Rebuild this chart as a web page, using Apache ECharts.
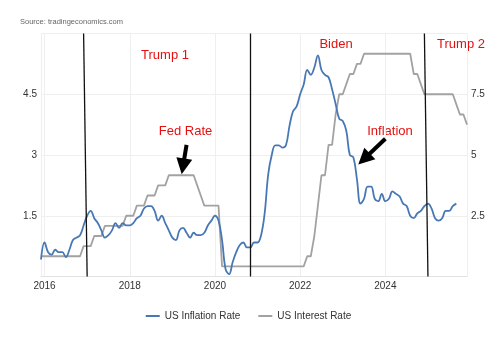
<!DOCTYPE html>
<html>
<head>
<meta charset="utf-8">
<script src="https://cdn.jsdelivr.net/npm/echarts@6/dist/echarts.min.js"></script>
<style>
html,body{margin:0;padding:0;background:#fff;}
#chart{width:497px;height:339px;}
</style>
</head>
<body>
<div id="chart"></div>
<script>
// US CPI inflation, YoY % (monthly, Dec 2015 .. Sep 2025)
const cpi2015 = [0.7];
const cpi2016 = [1.4, 1.0, 0.9, 1.1, 1.0, 1.0, 0.8, 1.1, 1.5, 1.6, 1.7, 2.1];
const cpi2017 = [2.5, 2.7, 2.4, 2.2, 1.9, 1.6, 1.7, 1.9, 2.2, 2.0, 2.2, 2.1];
const cpi2018 = [2.1, 2.2, 2.4, 2.5, 2.8, 2.9, 2.9, 2.7, 2.3, 2.5, 2.2, 1.9];
const cpi2019 = [1.6, 1.5, 1.9, 2.0, 1.8, 1.6, 1.8, 1.7, 1.7, 1.8, 2.1, 2.3];
const cpi2020 = [2.5, 2.3, 1.5, 0.3, 0.1, 0.6, 1.0, 1.3, 1.4, 1.2, 1.2, 1.4];
const cpi2021 = [1.4, 1.7, 2.6, 4.2, 5.0, 5.4, 5.4, 5.3, 5.4, 6.2, 6.8, 7.0];
const cpi2022 = [7.5, 7.9, 8.5, 8.3, 8.6, 9.1, 8.5, 8.3, 8.2, 7.7, 7.1, 6.5];
const cpi2023 = [6.4, 6.0, 5.0, 4.9, 4.0, 3.0, 3.2, 3.7, 3.7, 3.2, 3.1, 3.4];
const cpi2024 = [3.1, 3.2, 3.5, 3.4, 3.3, 3.0, 2.9, 2.5, 2.4, 2.6, 2.7, 2.9];
const cpi2025 = [3.0, 2.8, 2.4, 2.3, 2.4, 2.7, 2.7, 2.9, 3.0, null, null, null];

// Fed funds target (upper bound), % (monthly, Dec 2015 .. Dec 2025)
const rate2015 = [0.5];
const rate2016 = [0.5, 0.5, 0.5, 0.5, 0.5, 0.5, 0.5, 0.5, 0.5, 0.5, 0.5, 0.75];
const rate2017 = [0.75, 0.75, 1.0, 1.0, 1.0, 1.25, 1.25, 1.25, 1.25, 1.25, 1.25, 1.5];
const rate2018 = [1.5, 1.5, 1.75, 1.75, 1.75, 2.0, 2.0, 2.0, 2.25, 2.25, 2.25, 2.5];
const rate2019 = [2.5, 2.5, 2.5, 2.5, 2.5, 2.5, 2.5, 2.25, 2.0, 1.75, 1.75, 1.75];
const rate2020 = [1.75, 1.75, 0.25, 0.25, 0.25, 0.25, 0.25, 0.25, 0.25, 0.25, 0.25, 0.25];
const rate2021 = [0.25, 0.25, 0.25, 0.25, 0.25, 0.25, 0.25, 0.25, 0.25, 0.25, 0.25, 0.25];
const rate2022 = [0.25, 0.25, 0.5, 0.5, 1.0, 1.75, 2.5, 2.5, 3.25, 3.25, 4.0, 4.5];
const rate2023 = [4.5, 4.75, 5.0, 5.0, 5.25, 5.25, 5.5, 5.5, 5.5, 5.5, 5.5, 5.5];
const rate2024 = [5.5, 5.5, 5.5, 5.5, 5.5, 5.5, 5.5, 5.5, 5.0, 5.0, 4.75, 4.5];
const rate2025 = [4.5, 4.5, 4.5, 4.5, 4.5, 4.5, 4.5, 4.5, 4.25, 4.0, 4.0, 3.75];

const years = [2015, 2016, 2017, 2018, 2019, 2020, 2021, 2022, 2023, 2024, 2025];
const tickYears = ['2016', '2018', '2020', '2022', '2024'];

const cpiByYear = [cpi2015, cpi2016, cpi2017, cpi2018, cpi2019, cpi2020, cpi2021, cpi2022, cpi2023, cpi2024, cpi2025];
const rateByYear = [rate2015, rate2016, rate2017, rate2018, rate2019, rate2020, rate2021, rate2022, rate2023, rate2024, rate2025];

const months = [];
years.forEach(function (y, i) {
  const n = rateByYear[i].length;
  const firstMonth = 13 - n;
  for (let k = 0; k < n; k++) {
    const m = firstMonth + k;
    months.push(y + '-' + (m < 10 ? '0' + m : '' + m));
  }
});
const inflation = [].concat.apply([], cpiByYear);
const interest = [].concat.apply([], rateByYear);

const FONT = 'Liberation Sans, Arial, sans-serif';
const RED = '#e60f0f';
const BLUE = '#4878b4';
const GRAY = '#a2a2a2';

function isTick(value) {
  return value.slice(5) === '01' && tickYears.indexOf(value.slice(0, 4)) >= 0;
}

const chart = echarts.init(document.getElementById('chart'), null, {renderer: 'canvas'});
chart.setOption({
  animation: false,
  backgroundColor: '#ffffff',
  textStyle: {fontFamily: FONT},
  grid: {left: 41, right: 30, top: 33.5, bottom: 62.5},
  legend: {
    top: 306,
    left: 'center',
    icon: 'rect',
    itemWidth: 14,
    itemHeight: 2,
    itemGap: 18,
    data: ['US Inflation Rate', 'US Interest Rate'],
    textStyle: {fontSize: 10, color: '#333', fontFamily: FONT}
  },
  xAxis: {
    type: 'category',
    data: months,
    boundaryGap: false,
    axisTick: {show: false},
    axisLine: {lineStyle: {color: '#e2e2e2'}},
    axisLabel: {
      interval: function (idx, value) { return isTick(value); },
      formatter: function (value) { return value.slice(0, 4); },
      fontSize: 10, color: '#333', margin: 5, fontFamily: FONT
    },
    splitLine: {
      show: true,
      interval: function (idx, value) { return idx === 0 || idx === months.length - 1 || isTick(value); },
      lineStyle: {color: '#efefef', width: 1}
    }
  },
  yAxis: [
    {
      type: 'value', min: 0, max: 6, interval: 1.5, position: 'left',
      axisLine: {show: false}, axisTick: {show: false},
      axisLabel: {
        fontSize: 10, color: '#333', margin: 4, fontFamily: FONT,
        formatter: function (v) { return (v === 0 || v === 6) ? '' : String(v); }
      },
      splitLine: {lineStyle: {color: '#efefef'}}
    },
    {
      type: 'value', min: 0, max: 10, interval: 2.5, position: 'right',
      axisLine: {show: false}, axisTick: {show: false},
      axisLabel: {
        fontSize: 10, color: '#333', margin: 4, fontFamily: FONT,
        formatter: function (v) { return (v === 0 || v === 10) ? '' : String(v); }
      },
      splitLine: {show: false}
    }
  ],
  series: [
    {
      name: 'US Interest Rate',
      type: 'line',
      yAxisIndex: 0,
      data: interest,
      symbol: 'none',
      smooth: false,
      color: GRAY,
      lineStyle: {width: 1.8, color: GRAY},
      z: 2,
      markLine: {
        silent: true,
        symbol: ['none', 'none'],
        label: {show: false},
        emphasis: {disabled: true},
        lineStyle: {color: '#111', width: 1.3, type: 'solid'},
        data: [
          [{coord: ['2016-12', 6]}, {coord: ['2017-01', 0]}],
          [{coord: ['2020-11', 6]}, {coord: ['2020-11', 0]}],
          [{coord: ['2024-12', 6]}, {coord: ['2025-01', 0]}],
          [
            {coord: ['2019-05', 3.25], symbol: 'none'},
            {coord: ['2019-04', 2.72], symbol: 'triangle', symbolSize: 16},
            {lineStyle: {color: '#000', width: 4}}
          ],
          [
            {coord: ['2024-01', 3.4], symbol: 'none'},
            {coord: ['2023-07', 2.9], symbol: 'triangle', symbolSize: 16},
            {lineStyle: {color: '#000', width: 4}}
          ]
        ]
      }
    },
    {
      name: 'US Inflation Rate',
      type: 'line',
      yAxisIndex: 1,
      data: inflation,
      symbol: 'none',
      smooth: 0.4,
      connectNulls: false,
      color: BLUE,
      lineStyle: {width: 1.8, color: BLUE},
      z: 3
    }
  ],
  graphic: [
    {type: 'text', left: 20, top: 18, style: {text: 'Source: tradingeconomics.com', fill: '#666', font: '7.5px ' + FONT}},
    {type: 'text', x: 165, y: 55, style: {text: 'Trump 1', fill: RED, font: '13px ' + FONT, align: 'center', verticalAlign: 'middle'}},
    {type: 'text', x: 336, y: 44, style: {text: 'Biden', fill: RED, font: '13px ' + FONT, align: 'center', verticalAlign: 'middle'}},
    {type: 'text', x: 461, y: 44, style: {text: 'Trump 2', fill: RED, font: '13px ' + FONT, align: 'center', verticalAlign: 'middle'}},
    {type: 'text', x: 185.5, y: 131.5, style: {text: 'Fed Rate', fill: RED, font: '13px ' + FONT, align: 'center', verticalAlign: 'middle'}},
    {type: 'text', x: 390, y: 131.5, style: {text: 'Inflation', fill: RED, font: '13px ' + FONT, align: 'center', verticalAlign: 'middle'}}
  ]
});
</script>
</body>
</html>
